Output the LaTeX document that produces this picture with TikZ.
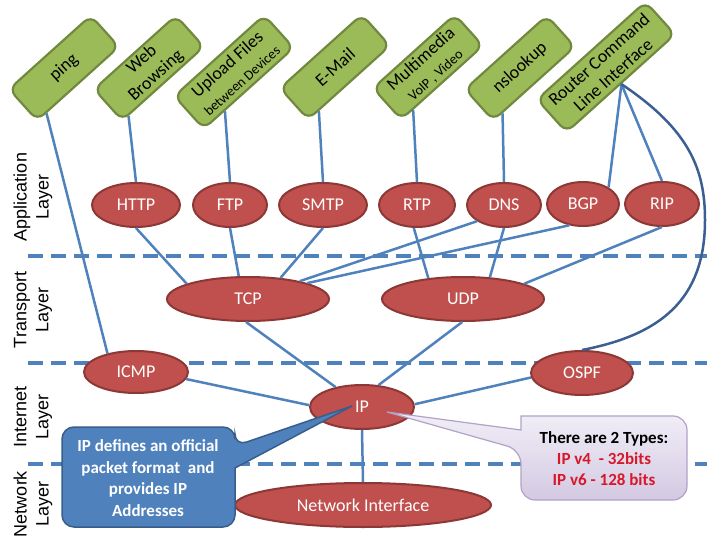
\documentclass[tikz,border=0pt]{standalone}
\usepackage{fontspec}
\setmainfont{Carlito}
\newfontfamily\arialf{Liberation Sans}
\usetikzlibrary{shapes.geometric}
\definecolor{gfill}{HTML}{9BBB59}
\definecolor{gdraw}{HTML}{71893F}
\definecolor{rfill}{HTML}{C0504D}
\definecolor{rdraw}{HTML}{8C3836}
\definecolor{lblue}{HTML}{4F81BD}
\definecolor{dblue}{HTML}{385D8A}
\definecolor{navy}{HTML}{3C5F93}
\definecolor{ptop}{HTML}{F2EFF7}
\definecolor{pbot}{HTML}{D3C9E2}
\definecolor{pdraw}{HTML}{B3A2C7}
\definecolor{tred}{HTML}{D7182A}
\begin{document}
\begin{tikzpicture}[x=1pt,y=-1pt,
 appbox/.style={draw=gdraw, fill=gfill, line width=2.2pt, rounded corners=9pt, rectangle,
   minimum height=42pt, minimum width=110pt, inner sep=0pt, rotate=42, align=center,
   font=\fontsize{18}{21}\selectfont, text=black},
 proto/.style={ellipse, draw=rdraw, fill=rfill, line width=2pt, inner sep=0pt, text=white,
   font=\fontsize{18}{20}\selectfont},
 conn/.style={draw=lblue, line width=2.5pt},
 layerline/.style={draw=lblue, line width=4pt, dash pattern=on 15pt off 8pt},
 layerlbl/.style={rotate=90, align=center, font=\arialf\fontsize{18}{22}\selectfont}
]
\useasboundingbox (0,0) rectangle (720,540);

% layer separators
\draw[layerline] (28,256) -- (707,256);
\draw[layerline] (28,363) -- (707,363);
\draw[layerline] (28,464) -- (707,464);

% layer labels
\node[layerlbl] (lapp) at (33,197) {Application\\Layer};
\node[layerlbl] (ltr) at (33,310) {Transport\\Layer};
\node[layerlbl] (lint) at (33,417) {Internet\\Layer};
\node[layerlbl] (lnet) at (33,504) {Network\\Layer};

% application boxes
\node[appbox] (ping) at (64,68) {ping};
\node[appbox] (web) at (149,68) {Web\\Browsing};
\node[appbox, minimum width=121pt, minimum height=44pt] (upload) at (234,72) {Upload Files\\{\fontsize{14}{15}\selectfont between Devices}};
\node[appbox] (email) at (335,67) {E-Mail};
\node[appbox] (mm) at (428,67) {Multimedia\\{\fontsize{14}{15}\selectfont VoIP , Video}};
\node[appbox] (ns) at (520,68) {nslookup};
\node[appbox, minimum width=146pt, minimum height=44pt] (router) at (606,67) {Router Command\\Line Interface};

% protocols
\node[proto, minimum width=88pt, minimum height=44pt] (http) at (136,205) {HTTP};
\node[proto, minimum width=74pt, minimum height=44pt] (ftp) at (230,205) {FTP};
\node[proto, minimum width=88pt, minimum height=44pt] (smtp) at (323,205) {SMTP};
\node[proto, minimum width=76pt, minimum height=44pt] (rtp) at (417,205) {RTP};
\node[proto, minimum width=74pt, minimum height=44pt] (dns) at (504,205) {DNS};
\node[proto, minimum width=72pt, minimum height=44pt] (bgp) at (583,204) {BGP};
\node[proto, minimum width=74pt, minimum height=44pt] (rip) at (662,204) {RIP};
\node[proto, minimum width=162pt, minimum height=44pt] (tcp) at (248,299) {TCP};
\node[proto, minimum width=162pt, minimum height=44pt] (udp) at (463,299) {UDP};
\node[proto, minimum width=104pt, minimum height=42pt] (icmp) at (136,372) {ICMP};
\node[proto, minimum width=102pt, minimum height=44pt] (ospf) at (582,373) {OSPF};
\node[proto, minimum width=104pt, minimum height=44pt] (ip) at (362,407) {IP};
\node[proto, minimum width=256pt, minimum height=44pt] (ni) at (363,505) {Network Interface};

% connectors
\draw[conn] (ping.207) -- (icmp.147);
\draw[conn] (web.205) -- (http.north);
\draw[conn] (upload.215) -- (ftp.north);
\draw[conn] (email.208) -- (smtp.north);
\draw[conn] (mm.209) -- (rtp.north);
\draw[conn] (ns.207) -- (dns.north);
\draw[conn] (router.south) -- (bgp.33);
\draw[conn] (router.south) -- (rip.north);
\draw[conn, draw=navy] (router.south) .. controls (690,130) and (705,170) .. (705,220)
   .. controls (705,300) and (660,335) .. (ospf.north);
\draw[conn] (http.south) -- (tcp.166);
\draw[conn] (ftp.south) -- (tcp.112);
\draw[conn] (smtp.south) -- (tcp.33);
\draw[conn] (dns.211) -- (tcp.19);
\draw[conn] (bgp.237) -- (tcp.15);
\draw[conn] (rtp.262) -- (udp.149);
\draw[conn] (dns.south) -- (udp.39);
\draw[conn] (rip.south) -- (udp.14);
\draw[conn] (tcp.265) -- (ip.143);
\draw[conn] (udp.268) -- (ip.53);
\draw[conn] (icmp.352) -- (ip.178);
\draw[conn] (ospf.185) -- (ip.3);
\draw[conn] (ip.south) -- (ni.north);

% blue callout
\coordinate (bluetip) at (352,406);
\draw[draw=dblue, fill=lblue, line width=1.5pt] (148,427) [rounded corners=12pt] -- (235,427) -- (235,446)
   [sharp corners] -- (bluetip) -- (235,468) [rounded corners=12pt] -- (235,527) -- (62,527) -- (62,427) -- cycle;
\node[text=white, font=\bfseries\fontsize{17}{21.7}\selectfont, align=center] (bluetxt) at (148,478)
   {IP defines an official\\packet format \ and\\provides IP\\Addresses};

% purple callout
\coordinate (purptip) at (387,412);
\draw[draw=pdraw, top color=ptop, bottom color=pbot, line width=1.2pt] (604,416) [rounded corners=14pt]
   -- (687,416) -- (687,500) -- (521,500) -- (521,450) [sharp corners] -- (purptip) -- (521,430) -- (521,416)
   [rounded corners=14pt] -- cycle;
\node[font=\bfseries\fontsize{17}{21}\selectfont, align=center] (ptxt) at (604,459)
   {There are 2 Types:\\\textcolor{tred}{IP v4 \ - 32bits}\\\textcolor{tred}{IP v6 - 128 bits}};
\end{tikzpicture}
\end{document}
